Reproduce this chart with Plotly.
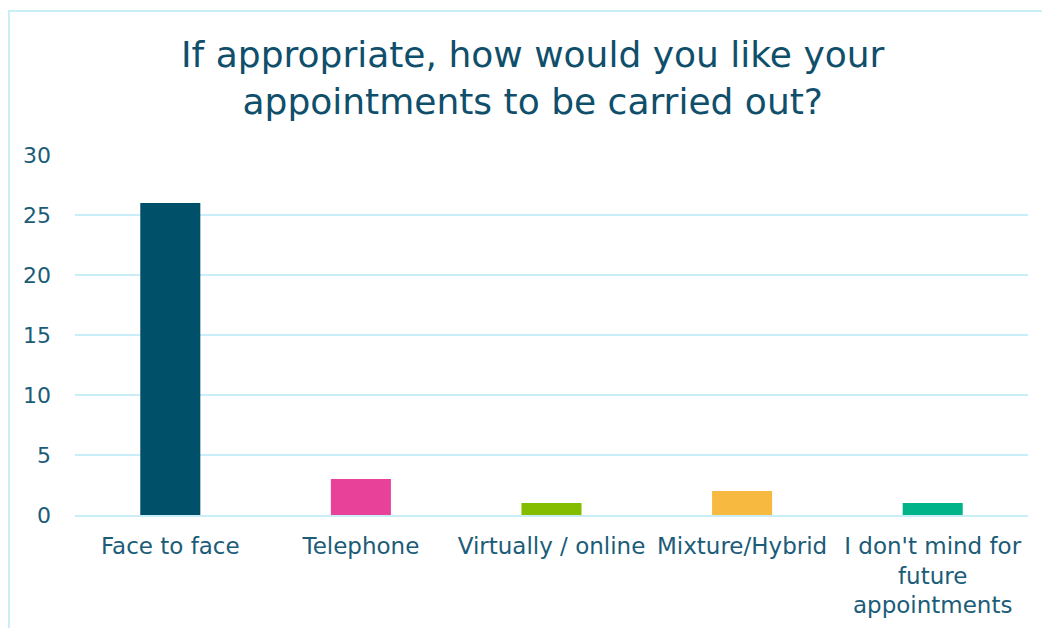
import plotly.graph_objects as go

categories = ["Face to face", "Telephone", "Virtually / online", "Mixture/Hybrid",
              "I don't mind for<br>future<br>appointments"]
values = [26, 3, 1, 2, 1]
colors = ["#00506A", "#E8419A", "#84BD00", "#F8B941", "#00B388"]
yticks = [0, 5, 10, 15, 20, 25, 30]
title_text = "If appropriate, how would you like your<br>appointments to be carried out?"

W, H = 1042, 628
L, R, T, B = 75, 14, 155, 113
pw, ph = W - L - R, H - T - B
FONT = "DejaVu Sans, sans-serif"

fig = go.Figure(go.Bar(x=categories, y=values, marker=dict(color=colors, line=dict(width=0)),
                       width=0.315))

fig.update_layout(
    width=W, height=H,
    margin=dict(l=L, r=R, t=T, b=B),
    paper_bgcolor="white", plot_bgcolor="white",
    font=dict(family=FONT, color="#1B5C78"),
    showlegend=False,
    bargap=0.685,
)
fig.add_annotation(text=title_text, xref="paper", yref="paper",
                   x=(533 - L) / pw, y=1 + (T - 32) / ph, xanchor="center", yanchor="top",
                   showarrow=False, align="center",
                   font=dict(family=FONT, size=36, color="#0F4F6B"))
fig.update_yaxes(range=[0, 30], tickvals=yticks, showgrid=True, gridcolor="#C9EEF8", gridwidth=2,
                 zeroline=False, showline=False, tickfont=dict(size=22, color="#1B5C78"),
                 ticks="", ticklabelstandoff=23, fixedrange=True, automargin=False)
fig.update_xaxes(showgrid=False, showline=True, linecolor="#C9EEF8", linewidth=2,
                 tickfont=dict(size=23, color="#1B5C78"), ticks="", ticklabelstandoff=9,
                 tickangle=0, automargin=False)
# outer chart border (light cyan), cropped at right/bottom
fig.add_shape(type="rect", xref="paper", yref="paper",
              x0=(9 - L) / pw, x1=(W + 5 - L) / pw,
              y0=-(H + 5 - T - ph) / ph, y1=1 + (T - 11) / ph,
              line=dict(color="#C9EEF8", width=2), fillcolor="rgba(0,0,0,0)", layer="below")

fig.write_html("out.html")
